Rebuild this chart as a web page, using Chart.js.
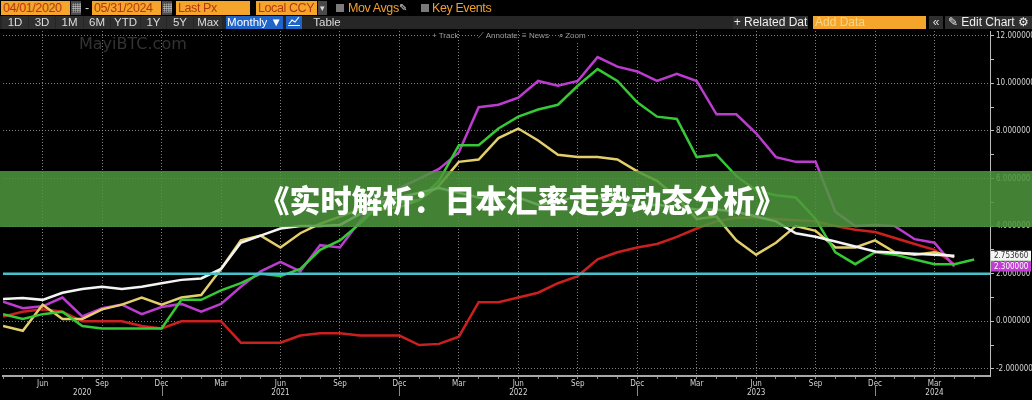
<!DOCTYPE html>
<html lang="zh">
<head>
    <meta charset="UTF-8">
    <title>日本汇率走势动态分析</title>
    <script src="https://cdn.jsdelivr.net/npm/chart.js@4"></script>
    <style>
        body {
            margin: 0;
            width: 1032px;
            height: 400px;
            overflow: hidden;
            position: relative;
            background-color: #000;
            font-family: 'Liberation Sans', Arial, sans-serif;
        }
        #grafica {
            position: absolute;
            left: 0;
            top: 0;
        }
        .r1 {
            position: absolute;
            top: 1px;
            height: 14px;
            line-height: 14px;
            font-size: 12.5px;
            letter-spacing: -0.4px;
            white-space: nowrap;
        }
        .inp {
            background-color: #f5a52c;
            color: #b3380f;
            padding-left: 2px;
            box-sizing: border-box;
        }
        .ico {
            background-color: #4a4a4a;
            color: #ddd;
            text-align: center;
            font-size: 9px;
        }
        .chk {
            position: absolute;
            top: 4px;
            width: 8px;
            height: 8px;
            background-color: #7a7a7a;
        }
        .strip {
            position: absolute;
            top: 16px;
            left: 0;
            width: 733px;
            height: 13px;
            background-color: #262626;
        }
        .r2 {
            position: absolute;
            top: 16px;
            height: 13px;
            line-height: 13px;
            font-size: 11.5px;
            color: #ddd;
            text-align: center;
            white-space: nowrap;
        }
        .dk { background-color: #2f2f2f; }
        .blue { background-color: #1f64c6; color: #fff; }
        .r3 {
            position: absolute;
            top: 31px;
            height: 10px;
            line-height: 10px;
            font-size: 8px;
            color: #a0a0a0;
            background-color: #000;
            white-space: nowrap;
        }
        .marca {
            position: absolute;
            left: 79px;
            top: 34px;
            font-size: 16px;
            color: #333;
            font-family: 'DejaVu Sans', sans-serif;
        }
        .banner {
            position: absolute;
            left: 0;
            top: 171px;
            width: 1032px;
            height: 56px;
            background-color: rgba(78, 150, 60, 0.86);
            color: #fff;
            font-family: 'Noto Sans CJK SC', sans-serif;
            font-weight: 900;
            font-size: 31px;
            line-height: 56px;
            text-align: center;
            padding-left: 12px;
            box-sizing: border-box;
        }
    </style>
</head>
<body>
    <canvas id="grafica" width="1032" height="400"></canvas>

    <!-- fila 1 -->
    <div class="r1 inp" style="left:1px;width:69px">04/01/2020</div>
    <div class="r1 ico" style="left:71px;width:10px">▦</div>
    <div class="r1" style="left:85px;color:#ddd">-</div>
    <div class="r1 inp" style="left:92px;width:69px">05/31/2024</div>
    <div class="r1 ico" style="left:162px;width:10px">▦</div>
    <div class="r1 inp" style="left:176px;width:74px">Last Px</div>
    <div class="r1 inp" style="left:256px;width:61px">Local CCY</div>
    <div class="r1 ico" style="left:318px;width:9px">▾</div>
    <div class="chk" style="left:336px"></div>
    <div class="r1" style="left:348px;color:#f0a030">Mov Avgs</div>
    <div class="r1" style="left:399px;color:#ddd;font-size:10px">✎</div>
    <div class="chk" style="left:421px"></div>
    <div class="r1" style="left:432px;color:#f0a030">Key Events</div>

    <!-- fila 2 -->
    <div class="strip"></div>
    <div class="r2 dk" style="left:2px;width:26px">1D</div>
    <div class="r2 dk" style="left:29px;width:26px">3D</div>
    <div class="r2 dk" style="left:56px;width:27px">1M</div>
    <div class="r2 dk" style="left:84px;width:26px">6M</div>
    <div class="r2 dk" style="left:111px;width:29px">YTD</div>
    <div class="r2 dk" style="left:141px;width:25px">1Y</div>
    <div class="r2 dk" style="left:167px;width:26px">5Y</div>
    <div class="r2 dk" style="left:194px;width:28px">Max</div>
    <div class="r2 blue" style="left:226px;width:57px">Monthly ▼</div>
    <div class="r2 blue" style="left:286px;width:16px">
        <svg width="12" height="10" viewBox="0 0 12 10"><polyline points="1,8 4,4 7,6 11,1" fill="none" stroke="#fff" stroke-width="1.2"/><line x1="0" y1="9.5" x2="12" y2="9.5" stroke="#fff"/></svg>
    </div>
    <div class="r2" style="left:305px;width:44px">Table</div>
    <div class="r2 dk" style="left:733px;width:75px;font-size:12px;color:#eee">+ Related Dat</div>
    <div class="r2" style="left:813px;width:113px;background:#f5a52c;color:#f7d78a;text-align:left;padding-left:2px;box-sizing:border-box;font-size:12px">Add Data</div>
    <div class="r2 dk" style="left:929px;width:14px;font-size:12px">«</div>
    <div class="r2 dk" style="left:945px;width:87px;font-size:12px;color:#eee">✎ Edit Chart ⚙</div>

    <!-- fila 3 -->
    <div class="r3" style="left:432px">+ Track</div>
    <div class="r3" style="left:478px">⟋ Annotate</div>
    <div class="r3" style="left:522px">≡ News</div>
    <div class="r3" style="left:559px">⌕ Zoom</div>

    <div class="marca">MayiBTC.com</div>
    <div class="banner">《实时解析：日本汇率走势动态分析》</div>

    <script>
        const months = [
            'Apr 2020', 'May 2020', 'Jun 2020', 'Jul 2020', 'Aug 2020', 'Sep 2020', 'Oct 2020', 'Nov 2020', 'Dec 2020',
            'Jan 2021', 'Feb 2021', 'Mar 2021', 'Apr 2021', 'May 2021', 'Jun 2021', 'Jul 2021', 'Aug 2021', 'Sep 2021',
            'Oct 2021', 'Nov 2021', 'Dec 2021', 'Jan 2022', 'Feb 2022', 'Mar 2022', 'Apr 2022', 'May 2022', 'Jun 2022',
            'Jul 2022', 'Aug 2022', 'Sep 2022', 'Oct 2022', 'Nov 2022', 'Dec 2022', 'Jan 2023', 'Feb 2023', 'Mar 2023',
            'Apr 2023', 'May 2023', 'Jun 2023', 'Jul 2023', 'Aug 2023', 'Sep 2023', 'Oct 2023', 'Nov 2023', 'Dec 2023',
            'Jan 2024', 'Feb 2024', 'Mar 2024', 'Apr 2024', 'May 2024'
        ];
        const quarterTicks = ['Mar', 'Jun', 'Sep', 'Dec'];
        const yearTicks = { 'Aug 2020': '2020', 'Jun 2021': '2021', 'Jun 2022': '2022', 'Jun 2023': '2023', 'Mar 2024': '2024' };

        const whiteLine = [0.94, 0.98, 0.9, 1.2, 1.36, 1.45, 1.36, 1.45, 1.6, 1.74,
            1.8, 2.2, 3.3, 3.6, 3.9, 4.0, 4.0, 4.05, 4.5, 5.0,
            5.2, 5.4, 5.6, 5.4, 5.2, 5.1, 5.2, 4.9, 5.0, 5.3,
            5.2, 5.0, 4.8, 4.9, 4.8, 4.7, 4.7, 4.6, 4.4, 4.2,
            3.7, 3.55, 3.35, 3.14, 2.93, 2.88, 2.84, 2.8, 2.75366];
        const yellowLine = [-0.2, -0.4, 0.7, 0.1, 0.1, 0.5, 0.7, 1.0, 0.7, 1.0,
            1.1, 2.2, 3.4, 3.6, 3.1, 3.7, 4.1, 4.4, 4.7, 4.7,
            4.8, 5.1, 5.7, 6.7, 6.8, 7.7, 8.1, 7.6, 7.0, 6.9,
            6.9, 6.8, 6.3, 5.9, 5.2, 4.3, 4.4, 3.4, 2.8, 3.3,
            4.0, 3.8, 3.1, 3.1, 3.4, 2.9, 2.8, 2.9, 2.7];
        const greenLine = [0.3, 0.1, 0.3, 0.4, -0.2, -0.3, -0.3, -0.3, -0.3, 0.9,
            0.9, 1.3, 1.6, 2.0, 1.9, 2.2, 3.0, 3.4, 4.1, 4.9,
            5.0, 5.1, 5.9, 7.4, 7.4, 8.1, 8.6, 8.9, 9.1, 9.9,
            10.6, 10.1, 9.2, 8.6, 8.5, 6.9, 7.0, 6.1, 5.5, 5.3,
            5.2, 4.3, 2.9, 2.4, 2.9, 2.8, 2.6, 2.4, 2.4, 2.6];
        const magentaLine = [0.82, 0.55, 0.63, 1.0, 0.2, 0.55, 0.7, 0.3, 0.6, 0.73,
            0.4, 0.73, 1.45, 2.1, 2.5, 2.1, 3.2, 3.1, 4.2, 5.1,
            5.6, 6.0, 6.4, 7.1, 9.0, 9.1, 9.4, 10.1, 9.9, 10.1,
            11.1, 10.7, 10.5, 10.1, 10.4, 10.1, 8.7, 8.7, 7.9, 6.9,
            6.7, 6.7, 4.6, 4.0, 4.05, 4.0, 3.45, 3.3, 2.3];
        const redLine = [0.2, 0.4, 0.5, 0.4, 0.0, 0.0, 0.0, -0.2, -0.3, 0.0,
            0.0, 0.0, -0.9, -0.9, -0.9, -0.6, -0.5, -0.5, -0.6, -0.6,
            -0.6, -1.0, -0.95, -0.65, 0.8, 0.8, 1.0, 1.2, 1.6, 1.9,
            2.6, 2.9, 3.1, 3.25, 3.55, 3.9, 4.2, 4.35, 4.35, 4.3,
            4.25, 4.2, 4.0, 3.85, 3.75, 3.5, 3.25, 3.0, 2.4];
        const targetLevel = 2.0;

        const xMax = 49.8;

        function toPoints(values) {
            return values.map((v, i) => ({ x: i, y: v }));
        }

        function serie(values, color) {
            return {
                data: toPoints(values),
                borderColor: color,
                borderWidth: 2.5,
                pointRadius: 0,
                tension: 0
            };
        }

        const extras = {
            id: 'extras',
            afterDraw(chart) {
                const { ctx, scales: { x, y } } = chart;
                ctx.save();
                // separadores de año
                ctx.strokeStyle = '#8a8a8a';
                ctx.lineWidth = 1;
                months.forEach((m, i) => {
                    if (m.startsWith('Dec')) {
                        const px = Math.round(x.getPixelForValue(i)) + 0.5;
                        ctx.beginPath();
                        ctx.moveTo(px, x.top + 10);
                        ctx.lineTo(px, x.top + 20);
                        ctx.stroke();
                    }
                });
                // etiquetas del último valor
                const cajas = [
                    [greenLine, '#3fc63f', '#103010'],
                    [whiteLine, '#f4f4f4', '#333'],
                    [magentaLine, '#c03fd2', '#fff']
                ];
                ctx.font = '8px "DejaVu Sans Condensed", "DejaVu Sans", sans-serif';
                ctx.textBaseline = 'middle';
                cajas.forEach(([vals, fondo, texto]) => {
                    const v = vals[vals.length - 1];
                    const py = y.getPixelForValue(v);
                    ctx.fillStyle = fondo;
                    ctx.fillRect(x.right + 1, py - 5, 40, 10);
                    ctx.fillStyle = texto;
                    ctx.fillText(v.toFixed(6), x.right + 4, py + 0.5);
                });
                ctx.restore();
            }
        };

        const tickFont = { family: '"DejaVu Sans Condensed", "DejaVu Sans", sans-serif', size: 8, lineHeight: 1.15 };

        new Chart(document.getElementById('grafica'), {
            type: 'line',
            data: {
                datasets: [
                    {
                        data: [{ x: 0, y: targetLevel }, { x: xMax, y: targetLevel }],
                        borderColor: '#45c3cc',
                        borderWidth: 2.5,
                        pointRadius: 0
                    },
                    serie(whiteLine, '#f4f4f4'),
                    serie(greenLine, '#36c936'),
                    serie(yellowLine, '#e2cf6c'),
                    serie(magentaLine, '#bd3cd0'),
                    serie(redLine, '#cc2020')
                ]
            },
            options: {
                responsive: false,
                animation: false,
                layout: { padding: { top: 31, left: 3, right: 0, bottom: 0 } },
                plugins: { legend: { display: false }, tooltip: { enabled: false } },
                scales: {
                    x: {
                        type: 'linear',
                        min: 0,
                        max: xMax,
                        afterFit(scale) { scale.height = 24; },
                        border: { display: true, color: '#a8a8a8', width: 2, dash: [1, 2] },
                        grid: {
                            color: c => {
                                const m = months[Math.round(c.tick ? c.tick.value : -1)];
                                return m && quarterTicks.includes(m.slice(0, 3)) ? 'rgba(170,170,170,0.75)' : 'rgba(0,0,0,0)';
                            },
                            tickColor: '#8a8a8a',
                            tickLength: 3,
                            lineWidth: 1
                        },
                        ticks: {
                            stepSize: 1,
                            includeBounds: false,
                            autoSkip: false,
                            maxRotation: 0,
                            minRotation: 0,
                            padding: 0,
                            color: '#d4d4d4',
                            font: tickFont,
                            callback: v => {
                                const m = months[Math.round(v)];
                                if (!m) return '';
                                const mes = m.slice(0, 3);
                                return [quarterTicks.includes(mes) ? mes : '', yearTicks[m] || ''];
                            }
                        }
                    },
                    y: {
                        position: 'right',
                        min: -2.3,
                        max: 12.2,
                        afterFit(scale) { scale.width = 42; },
                        border: { display: true, color: '#bdbdbd', width: 1, dash: [1, 2] },
                        grid: {
                            color: c => (c.tick && c.tick.value % 2 === 0 ? 'rgba(170,170,170,0.75)' : 'rgba(0,0,0,0)'),
                            tickColor: '#bdbdbd',
                            tickLength: 4,
                            lineWidth: 1
                        },
                        ticks: {
                            stepSize: 1,
                            includeBounds: false,
                            padding: 2,
                            color: '#d4d4d4',
                            font: tickFont,
                            callback: v => (v % 2 === 0 ? v.toFixed(6) : '')
                        }
                    }
                }
            },
            plugins: [extras]
        });
    </script>
</body>
</html>
